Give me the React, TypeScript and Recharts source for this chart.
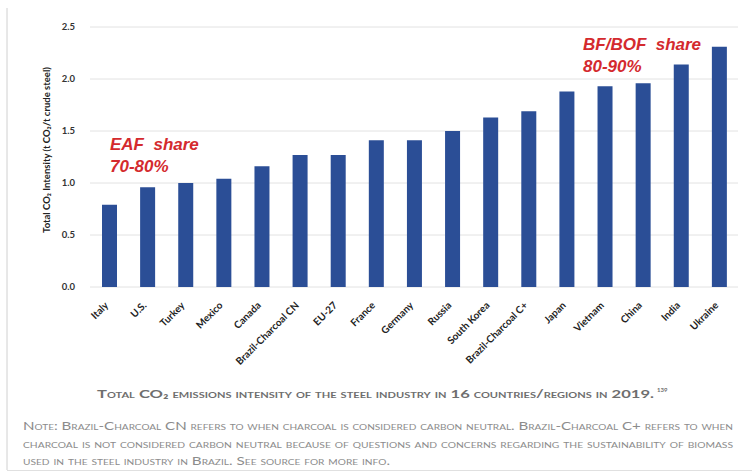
import React from 'react';
import { BarChart, Bar, XAxis, YAxis, CartesianGrid } from 'recharts';

const categories = [
  'Italy', 'U.S.', 'Turkey', 'Mexico', 'Canada', 'Brazil-Charcoal CN', 'EU-27', 'France', 'Germany',
  'Russia', 'South Korea', 'Brazil-Charcoal C+', 'Japan', 'Vietnam', 'China', 'India', 'Ukraine',
];
const intensity = [0.79, 0.96, 1.0, 1.04, 1.16, 1.27, 1.27, 1.41, 1.41, 1.5, 1.63, 1.69, 1.88, 1.93, 1.96, 2.14, 2.31];
const yTicks = [0, 0.5, 1.0, 1.5, 2.0, 2.5];

const yAxisTitle = 'Total CO₂ Intensity (t CO₂/t crude steel)';
const eafNote = ['EAF  share', '70-80%'];
const bofNote = ['BF/BOF  share', '80-90%'];
const captionText = 'Total CO₂ emissions intensity of the steel industry in 16 countries/regions in 2019.';
const captionRef = '139';
const noteLines = [
  'Note: Brazil-Charcoal CN refers to when charcoal is considered carbon neutral. Brazil-Charcoal C+ refers to when',
  'charcoal is not considered carbon neutral because of questions and concerns regarding the sustainability of biomass',
  'used in the steel industry in Brazil. See source for more info.',
];

const FONT = 'Lato, "Open Sans", sans-serif';

const RotTick = (props: any) => {
  const { x, y, payload } = props;
  return (
    <g transform={`translate(${x},${y + 11})`}>
      <text
        transform="rotate(-45)"
        textAnchor="end"
        fontSize={10}
        fontWeight={700}
        fill="#222"
        fontFamily={FONT}
      >
        {payload.value}
      </text>
    </g>
  );
};

export default function App() {
  const data = categories.map((c, i) => ({ name: c, value: intensity[i] }));
  const red = '#D42A2E';
  return (
    <div style={{ position: 'absolute', left: 0, top: 0, width: 752, height: 475, background: '#fff', fontFamily: FONT }}>
      <BarChart width={752} height={380} data={data} margin={{ top: 27, right: 14, left: 0, bottom: 0 }}>
        <CartesianGrid vertical={false} stroke="#e2e2e2" />
        <XAxis
          dataKey="name"
          interval={0}
          tickLine={false}
          axisLine={false}
          tickSize={0}
          tickMargin={8}
          height={93}
          tick={<RotTick />}
        />
        <YAxis
          domain={[0, 2.5]}
          ticks={yTicks}
          width={90}
          tickLine={false}
          axisLine={false}
          tickSize={0}
          tickMargin={15}
          tickFormatter={(v: number) => v.toFixed(1)}
          tick={{ fontSize: 9.5, fontWeight: 700, fill: '#333', fontFamily: FONT }}
        />
        <Bar dataKey="value" fill="#2B4E96" barSize={15} isAnimationActive={false} />
      </BarChart>
      <svg
        width={752}
        height={475}
        style={{ position: 'absolute', left: 0, top: 0, pointerEvents: 'none' }}
      >
        <line x1={7} y1={8} x2={7} y2={470} stroke="#d0d0d0" strokeWidth={1} />
        <line x1={7} y1={470.5} x2={752} y2={470.5} stroke="#e0e0e0" strokeWidth={1} />
        <text
          transform="translate(50,150) rotate(-90)"
          textAnchor="middle"
          fontSize={9.5}
          fontWeight={700}
          fill="#222"
          fontFamily={FONT}
        >
          {yAxisTitle}
        </text>
        <g fontFamily='"Liberation Sans", Arial, sans-serif' fontWeight={700} fontStyle="italic" fontSize={17} fill={red}>
          <text x={110} y={150} style={{ whiteSpace: 'pre' }}>{eafNote[0]}</text>
          <text x={110} y={172}>{eafNote[1]}</text>
          <text x={583} y={50} style={{ whiteSpace: 'pre' }}>{bofNote[0]}</text>
          <text x={583} y={72}>{bofNote[1]}</text>
        </g>
        <text
          x={97}
          y={398}
          textLength={557}
          lengthAdjust="spacingAndGlyphs"
          fontSize={12}
          fontWeight={700}
          fill="#6e6e6e"
          fontFamily={FONT}
          style={{ fontVariant: 'small-caps' }}
        >
          {captionText}
        </text>
        <text x={657} y={392} fontSize={6} fontWeight={700} fill="#6e6e6e" fontFamily={FONT}>
          {captionRef}
        </text>
        {noteLines.map((l, i) => (
          <text
            key={i}
            x={23}
            y={430 + i * 17.5}
            textLength={i < 2 ? 710 : 367}
            lengthAdjust="spacingAndGlyphs"
            fontSize={10.5}
            fill="#8c8c8c"
            fontFamily={FONT}
            style={{ fontVariant: 'small-caps' }}
          >
            {l}
          </text>
        ))}
      </svg>
    </div>
  );
}
